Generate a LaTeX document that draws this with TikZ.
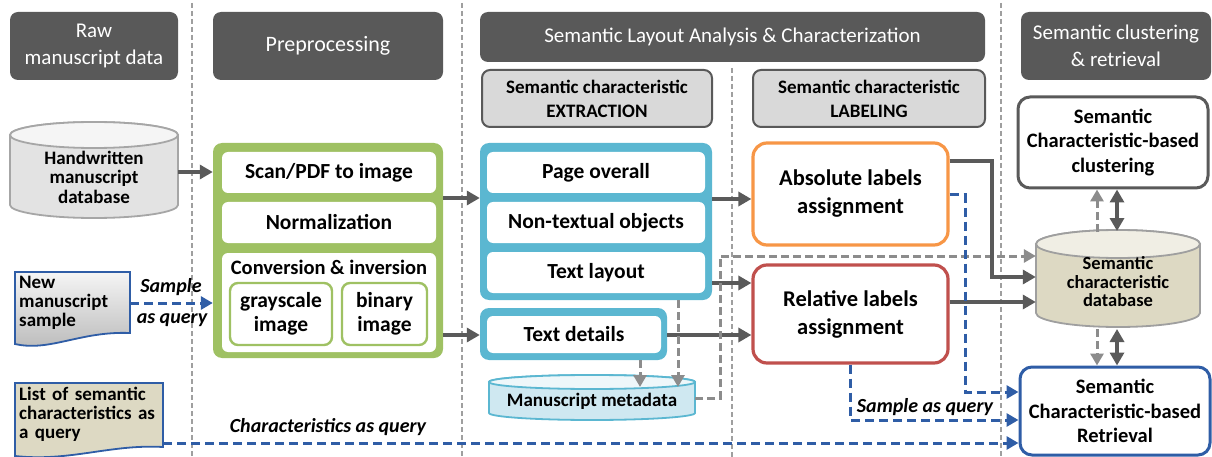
\documentclass[tikz,border=0pt]{standalone}
\usepackage{fontspec}
\setmainfont{Carlito}
\usetikzlibrary{arrows.meta,calc}
\definecolor{hdr}{HTML}{595959}
\definecolor{subfill}{HTML}{D9D9D9}
\definecolor{grn}{HTML}{9FC163}
\definecolor{cyanb}{HTML}{5BB7D1}
\definecolor{org}{HTML}{F79646}
\definecolor{redb}{HTML}{C0504D}
\definecolor{blu}{HTML}{2F5DA6}
\definecolor{dg}{HTML}{5A5A5A}
\definecolor{lg}{HTML}{8C8C8C}
\definecolor{beige}{HTML}{DDD9C3}
\definecolor{lblue}{HTML}{CFE8F1}
\newcommand\fs[2]{\fontsize{#1}{#2}\selectfont}
\newcommand\cyl[9]{%
  \pgfmathsetmacro\cx{(#1+#3)/2}\pgfmathsetmacro\rx{(#3-#1)/2}%
  \path[fill=#6,draw=#8,line width=#9] (#1,#2+#5) -- (#1,#4-#5)
     arc[start angle=180,end angle=360,x radius=\rx pt,y radius=#5 pt]
     -- (#3,#2+#5) arc[start angle=0,end angle=180,x radius=\rx pt,y radius=#5 pt] -- cycle;
  \path[fill=#7,draw=#8,line width=#9] (\cx,#2+#5) ellipse[x radius=\rx pt,y radius=#5 pt];}
\begin{document}
\begin{tikzpicture}[x=1pt,y=-1pt,
  divl/.style={draw=gray!75, line width=1.3pt, dash pattern=on 5pt off 3pt},
  hdrbox/.style={fill=hdr, rounded corners=8pt, text=white, align=center, inner sep=2pt, font=\fs{21}{27}},
  subbox/.style={fill=subfill, draw=hdr, line width=2pt, rounded corners=8pt, align=center, inner sep=2pt, font=\bfseries\fs{19}{24}},
  wbox/.style={fill=white, rounded corners=6pt, align=center, inner sep=2pt, font=\bfseries\fs{21.5}{24}},
  gsub/.style={fill=white, draw=grn, line width=2.4pt, rounded corners=8pt, align=center, inner sep=2pt, font=\bfseries\fs{21.5}{24}},
  gbox/.style={fill=grn, rounded corners=9pt, inner sep=0pt},
  cbox/.style={fill=cyanb, rounded corners=9pt, inner sep=0pt},
  labbox/.style={fill=white, line width=3.2pt, rounded corners=14pt, align=center, inner sep=2pt, font=\bfseries\fs{22.5}{28}},
  rbox/.style={fill=white, line width=3pt, rounded corners=12pt, align=center, inner sep=2pt, font=\bfseries\fs{20.5}{24.5}},
  txt/.style={align=center, inner sep=0pt, font=\bfseries\fs{19}{19.5}},
  doct/.style={align=left, inner sep=4pt, anchor=north west, font=\bfseries\fs{19}{19}},
  lbl/.style={inner sep=1pt, font=\bfseries\itshape\fs{20}{22}},
  arr/.style={draw=dg, line width=3.4pt, -{Triangle[length=13pt,width=14pt]}},
  darr/.style={draw=dg, line width=3.4pt, {Triangle[length=13pt,width=14pt]}-{Triangle[length=13pt,width=14pt]}},
  garr/.style={draw=lg, line width=3pt, dash pattern=on 8pt off 4pt, -{Triangle[length=12pt,width=13pt]}},
  barr/.style={draw=blu, line width=3pt, dash pattern=on 9pt off 5pt, -{Triangle[length=12pt,width=13pt]}}]
\useasboundingbox (0,0) rectangle (1212,457);
% column dividers
\draw[divl] (192,3) -- (192,457);
\draw[divl] (462,3) -- (462,457);
\draw[divl] (732,68) -- (732,457);
\draw[divl] (1001,3) -- (1001,457);
% headers
\node[hdrbox, minimum width=168pt, minimum height=68pt] (h1) at (94,46) {Raw\\manuscript data};
\node[hdrbox, minimum width=230pt, minimum height=68pt, font=\fs{22}{27}] (h2) at (328,46) {Preprocessing};
\node[hdrbox, minimum width=505pt, minimum height=50pt] (h3) at (732.5,37) {Semantic Layout Analysis \& Characterization};
\node[hdrbox, minimum width=190pt, minimum height=68pt] (h4) at (1116,46) {Semantic clustering\\\& retrieval};
\node[subbox, minimum width=230pt, minimum height=57pt] (s1) at (597,98.5) {Semantic characteristic\\EXTRACTION};
\node[subbox, minimum width=232pt, minimum height=57pt] (s2) at (869,98.5) {Semantic characteristic\\LABELING};
% left column
\cyl{10}{122}{178}{218}{13}{gray!22}{gray!8}{gray!70}{1.8pt}
\node[txt, minimum width=168pt, minimum height=80pt] (hwdb) at (94,177) {Handwritten\\manuscript\\database};
\path[draw=blu, line width=1.8pt, top color=gray!8, bottom color=gray!55]
  (15,272) -- (130,272) -- (130,333) .. controls (80,331) and (50,352) .. (15,344) -- cycle;
\node[doct, text width=107pt, minimum height=60pt] (doc1) at (15,272) {New\\manuscript\\sample};
\path[draw=blu, line width=1.8pt, fill=beige]
  (15,383) -- (163,383) -- (163,447) .. controls (110,444) and (70,462) .. (15,456) -- cycle;
\node[doct, text width=140pt, minimum height=62pt] (doc2) at (15,383) {List of semantic\\characteristics as\\a query};
% preprocessing
\node[gbox, minimum width=230pt, minimum height=215pt] (G) at (328,250.5) {};
\node[wbox, minimum width=214pt, minimum height=41pt] (scan) at (329,172.5) {Scan/PDF to image};
\node[wbox, minimum width=214pt, minimum height=41pt] (norm) at (329,222.5) {Normalization};
\node[wbox, minimum width=214pt, minimum height=99pt] (conv) at (329,302.5) {};
\node[txt, font=\bfseries\fs{20.5}{22}] (convt) at (329,267) {Conversion \& inversion};
\node[gsub, minimum width=102pt, minimum height=62pt] (gray) at (281,314) {grayscale\\image};
\node[gsub, minimum width=85pt, minimum height=62pt] (bin) at (384.5,314) {binary\\image};
% extraction
\node[cbox, minimum width=232pt, minimum height=157pt] (B) at (596,221.5) {};
\node[wbox, minimum width=218pt, minimum height=41pt] (page) at (596,172.5) {Page overall};
\node[wbox, minimum width=218pt, minimum height=41pt] (nontext) at (596,222.5) {Non-textual objects};
\node[wbox, minimum width=218pt, minimum height=41pt] (textlay) at (596,272.5) {Text layout};
\node[cbox, minimum width=187pt, minimum height=52pt] (TD) at (573.5,334) {};
\node[wbox, minimum width=174pt, minimum height=37pt] (textdet) at (574,334.5) {Text details};
\cyl{489}{375}{695}{420}{7}{lblue}{lblue!35}{cyanb}{1.8pt}
\node[txt, minimum width=206pt, minimum height=40pt] (meta) at (592,401) {Manuscript metadata};
% labeling
\node[labbox, draw=org, minimum width=195pt, minimum height=102pt] (abs) at (850.5,194) {Absolute labels\\assignment};
\node[labbox, draw=redb, minimum width=195pt, minimum height=98pt] (rel) at (850.5,314) {Relative labels\\assignment};
% clustering & retrieval
\node[rbox, draw=dg, minimum width=190pt, minimum height=91pt] (clus) at (1113,142.5) {Semantic\\Characteristic-based\\clustering};
\cyl{1036}{230}{1200}{327}{14}{beige}{beige!45}{gray!75}{1.8pt}
\node[txt, font=\bfseries\fs{18.5}{18.5}, minimum width=164pt, minimum height=90pt] (db) at (1118,282) {Semantic\\characteristic\\database};
\node[rbox, draw=blu, minimum width=190pt, minimum height=88pt] (retr) at (1115,411) {Semantic\\Characteristic-based\\Retrieval};
% connectors
\draw[arr] (hwdb.east |- 0,172) -- (G.west |- 0,172);
\draw[barr] (doc1.east |- 0,303) -- (G.west |- 0,303);
\node[lbl] (l1) at (171,287) {Sample};
\node[lbl] (l2) at (172,320) {as query};
\draw[arr] (G.east |- 0,198) -- (B.west |- 0,198);
\draw[arr] (G.east |- 0,335) -- (TD.west |- 0,335);
\draw[arr] (B.east |- 0,199) -- (abs.west |- 0,199);
\draw[arr] (B.east |- 0,283) -- (rel.west |- 0,283);
\draw[arr] (TD.east |- 0,335) -- (rel.west |- 0,335);
\draw[garr] (TD.south -| 640,0) -- (640,387);
\draw[garr] (B.south -| 678,0) -- (678,387);
\draw[garr] (695,398) -- (720,398) -- (720,256) -- (db.west |- 0,256);
\draw[arr] (abs.east |- 0,161) -- (992,161) -- (992,277) -- (db.west |- 0,277);
\draw[arr] (rel.east |- 0,302) -- (db.west |- 0,302);
\draw[barr] (abs.east |- 0,195) -- (965,195) -- (965,392) -- (retr.west |- 0,392);
\draw[barr] (rel.south) |- (retr.west |- 0,420);
\node[lbl] (l3) at (925,407) {Sample as query};
\draw[barr] (doc2.east |- 0,443) -- (retr.west |- 0,443);
\node[lbl] (l4) at (328,427) {Characteristics as query};
\draw[garr] (1097,232) -- (clus.south -| 1097,0);
\draw[darr] (clus.south -| 1117,0) -- (1117,231);
\draw[garr] (1097,329) -- (retr.north -| 1097,0);
\draw[darr] (1117,329) -- (retr.north -| 1117,0);
\end{tikzpicture}
\end{document}
